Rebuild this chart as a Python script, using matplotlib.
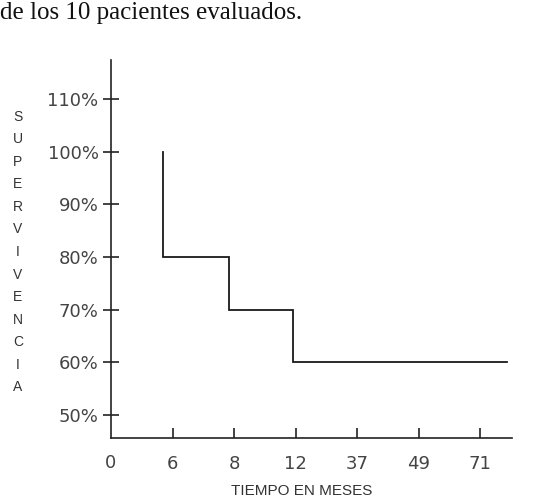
import matplotlib.pyplot as plt

# x axis is categorical: equally spaced month labels
month_labels = ["0", "6", "8", "12", "37", "49", "71"]
# step curve (x in category positions, y in %)
step_x = [0.85, 1.92, 2.96, 6.44]
step_y = [80, 70, 60, 60]
start_y = 100
y_ticks = [50, 60, 70, 80, 90, 100, 110]

W, H = 546, 501
fig = plt.figure(figsize=(W / 100, H / 100), dpi=100)
ax = fig.add_axes([111 / W, (H - 438) / H, (512 - 111) / W, (438 - 60) / H])

# Kaplan-Meier style staircase
xs = [step_x[0]]
ys = [start_y]
prev = start_y
for i, (x, y) in enumerate(zip(step_x, step_y)):
    if i > 0:
        xs.append(x)
        ys.append(prev)
    xs.append(x)
    ys.append(y)
    prev = y
ax.plot(xs, ys, color="#1a1a1a", lw=1.3, solid_joinstyle="miter")

ax.set_xlim(0, 6.52)
ax.set_ylim(45.6, 117.4)
for s in ("top", "right"):
    ax.spines[s].set_visible(False)
for s in ("left", "bottom"):
    ax.spines[s].set_linewidth(1.2)
    ax.spines[s].set_color("#222222")

tick_font = dict(family="DejaVu Sans", size=13, color="#444444")
ax.set_xticks(range(1, len(month_labels)))
ax.set_xticklabels(month_labels[1:], **tick_font)
ax.set_yticks(y_ticks)
ax.set_yticklabels([f"{v}%" for v in y_ticks], **tick_font)
ax.tick_params(axis="x", direction="in", length=7, width=1.2, pad=12,
               color="#222222")
ax.tick_params(axis="y", direction="inout", length=12, width=1.2, pad=3,
               color="#222222")

# origin "0" label
fig.text(111 / W, 1 - 463 / H, month_labels[0], ha="center", va="center",
         **tick_font)

# stacked vertical y label
fig.text(18 / W, 1 - 252 / H, "\n".join("SUPERVIVENCIA"), ha="center",
         va="center", fontsize=10, color="#333333", family="Liberation Sans",
         linespacing=1.78)

fig.text(302 / W, 1 - 491 / H, "TIEMPO EN MESES", ha="center", va="center",
         fontsize=11, color="#333333", family="Liberation Sans")

fig.text(0, 1 - 13 / H, "de los 10 pacientes evaluados.", ha="left",
         va="center", fontsize=18, color="#111111", family="Liberation Serif")

fig.savefig("out.png", dpi=100)
